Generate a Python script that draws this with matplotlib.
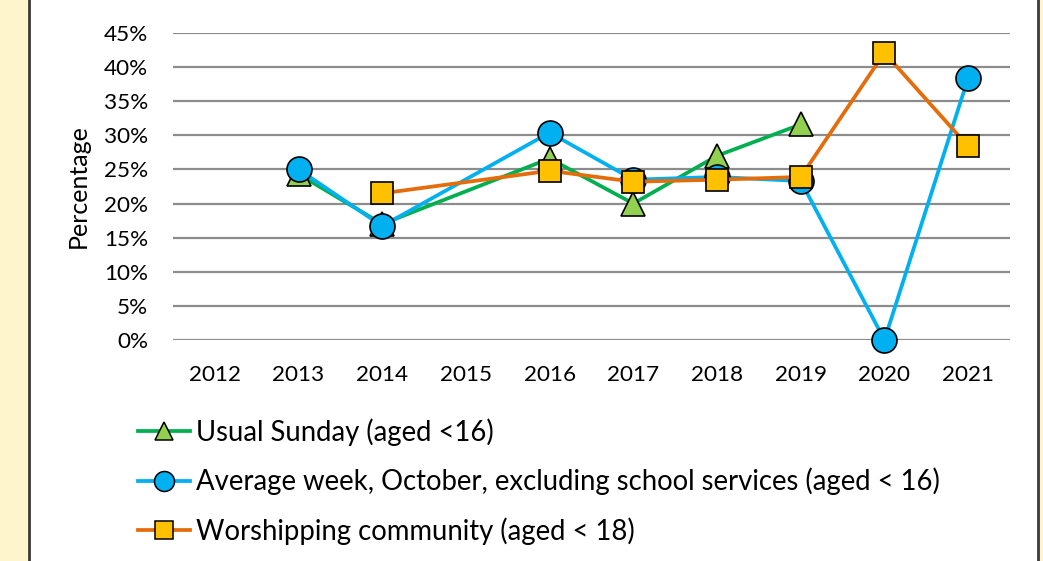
import numpy as np
import matplotlib
matplotlib.use("Agg")
import matplotlib.pyplot as plt
from matplotlib.patches import Rectangle
from matplotlib.lines import Line2D

plt.rcParams['font.family'] = ['Lato', 'DejaVu Sans']

years = ['2012', '2013', '2014', '2015', '2016', '2017', '2018', '2019', '2020', '2021']
usual_sunday = [np.nan, 24.3, 17.0, np.nan, 26.6, 20.0, 27.0, 31.6, np.nan, np.nan]
average_week = [np.nan, 25.0, 16.7, np.nan, 30.4, 23.5, 23.9, 23.3, 0.0, 38.4]
worshipping = [np.nan, np.nan, 21.5, np.nan, 24.8, 23.2, 23.5, 23.9, 42.1, 28.4]
labels = ['Usual Sunday (aged <16)',
          'Average week, October, excluding school services (aged < 16)',
          'Worshipping community (aged < 18)']
yticks = [0, 5, 10, 15, 20, 25, 30, 35, 40, 45]

W, H = 1043, 561
fig = plt.figure(figsize=(W / 100, H / 100), dpi=100)
fig.patch.set_facecolor('#FFF5CC')
fig.patches.append(Rectangle((29 / W, -0.01), (1038 - 29) / W, 1.02,
                             transform=fig.transFigure, facecolor='white',
                             edgecolor='#3a3a3a', linewidth=2, zorder=-10))

ax = fig.add_axes([173 / W, 1 - 340 / H, (1010 - 173) / W, (340 - 33) / H])
ax.set_facecolor('none')
x = np.arange(len(years))

series = [
    (usual_sunday, '#00B050', '^', '#92D050', 17),
    (average_week, '#00B0F0', 'o', '#00B0F0', 18),
    (worshipping, '#E46C0A', 's', '#FFC000', 15.5),
]
for (vals, lc, mk, fc, ms), lab in zip(series, labels):
    v = np.array(vals, dtype=float)
    m = ~np.isnan(v)
    ax.plot(x[m], v[m], color=lc, linewidth=2.7, marker=mk, markersize=ms,
            markerfacecolor=fc, markeredgecolor='black', markeredgewidth=1.2,
            label=lab, zorder=3, clip_on=False)

ax.set_xlim(-0.5, len(years) - 0.5)
ax.set_ylim(0, 45)
ax.set_yticks(yticks)
ax.set_yticklabels([f'{t}%' for t in yticks])
ax.set_xticks(x)
ax.set_xticklabels(years)
ax.grid(axis='y', color='#8c8c8c', linewidth=1.6)
ax.set_axisbelow(True)
for s in ax.spines.values():
    s.set_visible(False)
ax.tick_params(axis='both', length=0, labelsize=16.2, colors='black')
ax.tick_params(axis='y', pad=18)
ax.tick_params(axis='x', pad=18)
ax.set_ylabel('Percentage', fontsize=18, labelpad=10)

leg_handles = []
for (vals, lc, mk, fc, ms) in series:
    leg_handles.append(Line2D([0], [0], color=lc, linewidth=2.7, marker=mk,
                              markersize=ms * 0.8, markerfacecolor=fc,
                              markeredgecolor='black', markeredgewidth=1.1))
leg = fig.legend(leg_handles, labels, loc='upper left',
                 bbox_to_anchor=(127 / W, 1 - 407 / H), frameon=False,
                 fontsize=19.8, handlelength=1.9, handletextpad=0.2,
                 labelspacing=0.8, borderaxespad=0)

fig.savefig('out.png', dpi=100, facecolor=fig.get_facecolor())
